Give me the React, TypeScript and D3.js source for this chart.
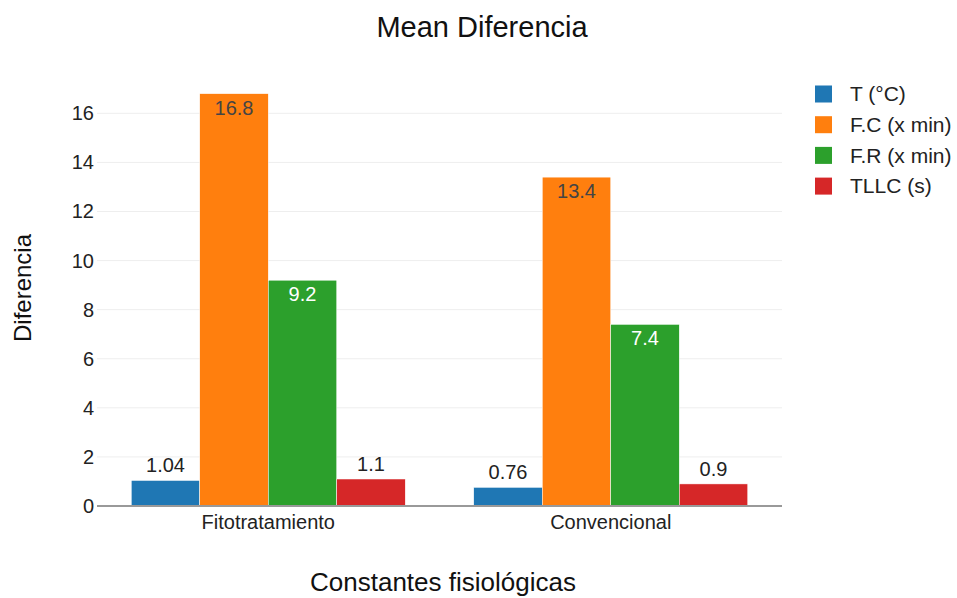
import React from "react";
import * as d3 from "d3";

const categories = ["Fitotratamiento", "Convencional"];
const seriesNames = ["T (°C)", "F.C (x min)", "F.R (x min)", "TLLC (s)"];
const seriesColors = ["#1f77b4", "#ff7f0e", "#2ca02c", "#d62728"];
const tValues = [1.04, 0.76];
const fcValues = [16.8, 13.4];
const frValues = [9.2, 7.4];
const tllcValues = [1.1, 0.9];
const yTicks = [0, 2, 4, 6, 8, 10, 12, 14, 16];

const seriesValues = [tValues, fcValues, frValues, tllcValues];

const W = 957;
const H = 598;
const margin = { left: 97, right: 175, top: 72, bottom: 92 };
const FONT = "Liberation Sans, Arial, sans-serif";

export default function App() {
  const plotW = W - margin.left - margin.right;
  const plotH = H - margin.top - margin.bottom;
  const maxV = d3.max(seriesValues.flat()) as number;

  const x0 = d3.scaleBand().domain(categories).range([0, plotW]).paddingInner(0.2).paddingOuter(0.1);
  const x1 = d3.scaleBand().domain(seriesNames).range([0, x0.bandwidth()]);
  const y = d3.scaleLinear().domain([0, maxV * 1.0526]).range([plotH, 0]);

  const insideColor = (c: string) => (c === "#ff7f0e" ? "#444" : "#fff");

  return (
    <svg width={W} height={H} style={{ position: "absolute", left: 0, top: 0, background: "#fff" }} fontFamily={FONT}>
      <text x={482} y={37} textAnchor="middle" fontSize={29} fill="#111">Mean Diferencia</text>
      <g transform={`translate(${margin.left},${margin.top})`}>
        {yTicks.map((t) => (
          <g key={t}>
            {t !== 0 && <line x1={0} x2={plotW} y1={y(t)} y2={y(t)} stroke="#eeeeee" strokeWidth={1} />}
            <text x={-3} y={y(t)} dy="0.35em" textAnchor="end" fontSize={20} fill="#222">{t}</text>
          </g>
        ))}
        {categories.map((cat, ci) => (
          <g key={cat} transform={`translate(${x0(cat)},0)`}>
            {seriesNames.map((s, si) => {
              const v = seriesValues[si][ci];
              const bx = x1(s) as number;
              const bw = x1.bandwidth();
              const top = y(v);
              const h = plotH - top;
              const inside = h > 40;
              return (
                <g key={s}>
                  <rect x={bx} y={top} width={bw} height={h} fill={seriesColors[si]} stroke="#fff" strokeWidth={0.5} />
                  <text
                    x={bx + bw / 2}
                    y={inside ? top + 21 : top - 8}
                    textAnchor="middle"
                    fontSize={20}
                    fill={inside ? insideColor(seriesColors[si]) : "#222"}
                  >
                    {String(v)}
                  </text>
                </g>
              );
            })}
            <text x={x0.bandwidth() / 2} y={plotH + 23} textAnchor="middle" fontSize={20} fill="#222">{cat}</text>
          </g>
        ))}
        <line x1={0} x2={plotW} y1={y(0)} y2={y(0)} stroke="#999" strokeWidth={2} />
      </g>
      <text transform={`translate(31,${288}) rotate(-90)`} textAnchor="middle" fontSize={24} fill="#111">Diferencia</text>
      <text x={443} y={591} textAnchor="middle" fontSize={26} fill="#111">Constantes fisiológicas</text>
      <g transform="translate(815,94)">
        {seriesNames.map((s, i) => (
          <g key={s} transform={`translate(0,${i * 30.7})`}>
            <rect x={0} y={-8.5} width={17} height={17} fill={seriesColors[i]} />
            <text x={35} y={0} dy="0.35em" fontSize={21} fill="#222">{s}</text>
          </g>
        ))}
      </g>
    </svg>
  );
}
